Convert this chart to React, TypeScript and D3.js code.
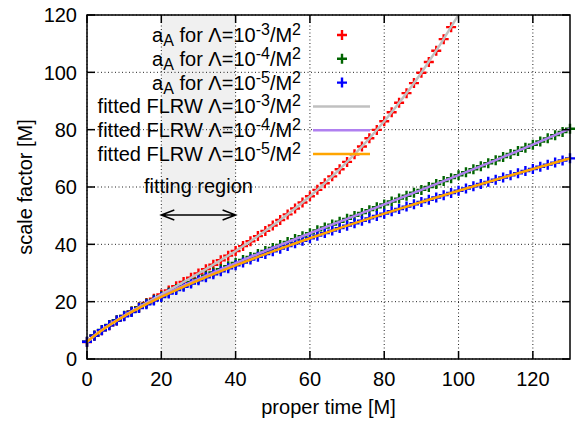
import React, { useEffect, useRef } from "react";
import * as d3 from "d3";

// proper time [M] of the simulation samples
const properTime = [
  0, 2, 4, 6, 8, 10, 12, 14, 16, 18, 20, 22, 24, 26, 28, 30, 32, 34, 36, 38, 40,
  42, 44, 46, 48, 50, 52, 54, 56, 58, 60, 62, 64, 66, 68, 70, 72, 74, 76, 78, 80,
  82, 84, 86, 88, 90, 92, 94, 96, 98, 100, 102, 104, 106, 108, 110, 112, 114,
  116, 118, 120, 122, 124, 126, 128, 130,
];

// a_A for Lambda = 1e-3 (leaves the frame after t = 100)
const aLambda3 = [
  5.94, 8.11, 10.02, 11.79, 13.45, 15.04, 16.58, 18.09, 19.57, 21.03, 22.48,
  23.93, 25.39, 26.85, 28.33, 29.82, 31.34, 32.89, 34.46, 36.06, 37.7, 39.38,
  41.1, 42.87, 44.68, 46.55, 48.47, 50.45, 52.49, 54.59, 56.77, 59.01, 61.32,
  63.72, 66.19, 68.76, 71.4, 74.14, 76.98, 79.91, 82.96, 86.1, 89.37, 92.74,
  96.25, 99.88, 103.63, 107.53, 111.58, 115.76, 120.1,
];

// a_A for Lambda = 1e-4
const aLambda4 = [
  6.0, 8.19, 10.11, 11.87, 13.51, 15.06, 16.53, 17.95, 19.32, 20.64, 21.92,
  23.17, 24.4, 25.6, 26.77, 27.92, 29.07, 30.19, 31.3, 32.39, 33.47, 34.54,
  35.61, 36.66, 37.7, 38.74, 39.78, 40.81, 41.83, 42.84, 43.86, 44.87, 45.89,
  46.89, 47.9, 48.89, 49.91, 50.92, 51.92, 52.92, 53.93, 54.94, 55.95, 56.96,
  57.97, 58.98, 60.01, 61.04, 62.06, 63.08, 64.12, 65.16, 66.21, 67.26, 68.31,
  69.35, 70.44, 71.52, 72.59, 73.68, 74.76, 75.86, 76.97, 78.08, 79.19, 80.32,
];

// a_A for Lambda = 1e-5
const aLambda5 = [
  6.0, 8.15, 10.05, 11.78, 13.4, 14.92, 16.37, 17.75, 19.09, 20.38, 21.63,
  22.84, 24.03, 25.19, 26.32, 27.43, 28.52, 29.58, 30.63, 31.66, 32.68, 33.68,
  34.67, 35.64, 36.6, 37.55, 38.49, 39.42, 40.34, 41.25, 42.14, 43.03, 43.92,
  44.79, 45.66, 46.52, 47.37, 48.22, 49.06, 49.88, 50.71, 51.54, 52.35, 53.16,
  53.97, 54.78, 55.57, 56.36, 57.15, 57.93, 58.71, 59.48, 60.26, 61.03, 61.79,
  62.55, 63.3, 64.06, 64.8, 65.56, 66.3, 67.04, 67.79, 68.52, 69.25, 69.99,
];

// fitted FLRW curves
const fitTime = [0, 2, 5, 10, 15, 20, 30, 40, 50, 60, 70, 80, 90, 100, 110, 120, 130];
const fitLambda3 = [5.94, 8.11, 10.9, 15.04, 18.83, 22.48, 29.82, 37.7, 46.55, 56.77, 68.76, 82.96, 99.88, 120.1, 144.3, 173.3, 208.0];
const fitLambda4 = [6.0, 8.19, 11.0, 15.06, 18.64, 21.92, 27.92, 33.47, 38.74, 43.86, 48.89, 53.93, 58.98, 64.12, 69.35, 74.76, 80.32];
const fitLambda5 = [5.99, 8.15, 10.93, 14.92, 18.42, 21.63, 27.43, 32.68, 37.55, 42.14, 46.52, 50.71, 54.78, 58.71, 62.55, 66.3, 69.99];

const xTicks = [0, 20, 40, 60, 80, 100, 120];
const yTicks = [0, 20, 40, 60, 80, 100, 120];
const fitRegion = [20, 40];
const exponents = ["-3", "-4", "-5"];

const FONT = "'Liberation Sans', Arial, Helvetica, sans-serif";
const width = 579;
const height = 421;
const margin = { top: 15, right: 9, bottom: 62, left: 87 };

function richText(sel, parts) {
  let shift = 0;
  parts.forEach((p) => {
    const target = p.s === "sup" ? -7 : p.s === "sub" ? 4 : 0;
    sel
      .append("tspan")
      .attr("dy", target - shift)
      .attr("font-size", p.s ? 16 : 20)
      .text(p.t);
    shift = target;
  });
}

export default function App() {
  const ref = useRef(null);

  useEffect(() => {
    const svg = d3.select(ref.current);
    svg.selectAll("*").remove();

    const x = d3.scaleLinear().domain([0, 130]).range([margin.left, width - margin.right]);
    const y = d3.scaleLinear().domain([0, 120]).range([height - margin.bottom, margin.top]);
    const [x0, x1] = x.range();
    const [y0, y1] = y.range();

    svg
      .append("defs")
      .append("clipPath")
      .attr("id", "plotclip")
      .append("rect")
      .attr("x", x0)
      .attr("y", y1)
      .attr("width", x1 - x0)
      .attr("height", y0 - y1);

    // fitting region shade
    svg
      .append("rect")
      .attr("x", x(fitRegion[0]))
      .attr("y", y1)
      .attr("width", x(fitRegion[1]) - x(fitRegion[0]))
      .attr("height", y0 - y1)
      .attr("fill", "#f0f0f0");

    // grid
    const grid = svg.append("g").attr("stroke", "#222").attr("stroke-width", 1).attr("stroke-dasharray", "1,2.5");
    xTicks.forEach((t) => {
      grid.append("line").attr("x1", x(t)).attr("x2", x(t)).attr("y1", y0).attr("y2", y1);
    });
    yTicks.forEach((t) => {
      grid.append("line").attr("x1", x0).attr("x2", x1).attr("y1", y(t)).attr("y2", y(t));
    });

    // data points
    const plus = (g, cx, cy, color) => {
      g.append("path")
        .attr("d", `M${cx - 5},${cy}H${cx + 5}M${cx},${cy - 5}V${cy + 5}`)
        .attr("stroke", color)
        .attr("stroke-width", 2.4)
        .attr("fill", "none");
    };
    const series = [
      { values: aLambda3, color: "#ff0000" },
      { values: aLambda4, color: "#006400" },
      { values: aLambda5, color: "#0000ff" },
    ];
    series.forEach((s) => {
      const g = svg.append("g");
      s.values.forEach((v, i) => {
        if (v <= 120) plus(g, x(properTime[i]), y(v), s.color);
      });
    });

    // fitted lines
    const line = d3
      .line()
      .x((d) => x(d[0]))
      .y((d) => y(d[1]))
      .curve(d3.curveMonotoneX);
    const fits = [
      { values: fitLambda3, color: "#c0c0c0" },
      { values: fitLambda4, color: "#b080f0" },
      { values: fitLambda5, color: "#ffa500" },
    ];
    fits.forEach((f) => {
      svg
        .append("path")
        .attr("d", line(fitTime.map((t, i) => [t, f.values[i]])))
        .attr("fill", "none")
        .attr("stroke", f.color)
        .attr("stroke-width", 2.5)
        .attr("clip-path", "url(#plotclip)");
    });

    // border and ticks
    svg
      .append("rect")
      .attr("x", x0)
      .attr("y", y1)
      .attr("width", x1 - x0)
      .attr("height", y0 - y1)
      .attr("fill", "none")
      .attr("stroke", "#000")
      .attr("stroke-width", 1.5);
    const ticks = svg.append("g").attr("stroke", "#000").attr("stroke-width", 1.5);
    xTicks.forEach((t) => {
      ticks.append("line").attr("x1", x(t)).attr("x2", x(t)).attr("y1", y0).attr("y2", y0 - 8);
      ticks.append("line").attr("x1", x(t)).attr("x2", x(t)).attr("y1", y1).attr("y2", y1 + 8);
    });
    yTicks.forEach((t) => {
      ticks.append("line").attr("x1", x0).attr("x2", x0 + 8).attr("y1", y(t)).attr("y2", y(t));
      ticks.append("line").attr("x1", x1).attr("x2", x1 - 8).attr("y1", y(t)).attr("y2", y(t));
    });

    const txt = svg.append("g").attr("font-family", FONT).attr("font-size", 20).attr("fill", "#000");
    xTicks.forEach((t) => {
      txt.append("text").attr("x", x(t)).attr("y", y0 + 27).attr("text-anchor", "middle").text(t);
    });
    yTicks.forEach((t) => {
      txt.append("text").attr("x", x0 - 10).attr("y", y(t)).attr("dy", "0.36em").attr("text-anchor", "end").text(t);
    });

    txt.append("text").attr("x", (x0 + x1) / 2).attr("y", 414).attr("text-anchor", "middle").text("proper time [M]");
    txt
      .append("text")
      .attr("transform", `translate(32,${(y0 + y1) / 2}) rotate(-90)`)
      .attr("text-anchor", "middle")
      .text("scale factor [M]");

    // fitting region label and arrow
    const xa = x(fitRegion[0]);
    const xb = x(fitRegion[1]);
    txt.append("text").attr("x", (xa + xb) / 2).attr("y", 193).attr("text-anchor", "middle").text("fitting region");
    svg
      .append("path")
      .attr("d", `M${xa},215H${xb}M${xa + 13},210L${xa},215L${xa + 13},220M${xb - 13},210L${xb},215L${xb - 13},220`)
      .attr("fill", "none")
      .attr("stroke", "#000")
      .attr("stroke-width", 1.5);

    // legend
    const legendX = 301;
    const rowY = (i) => 35 + i * 23.8;
    series.forEach((s, i) => {
      const t = txt
        .append("text")
        .attr("x", legendX)
        .attr("y", rowY(i) + 7)
        .attr("text-anchor", "end")
        .style("white-space", "pre");
      richText(t, [
        { t: "a" },
        { t: "A", s: "sub" },
        { t: " for \u039B=10" },
        { t: exponents[i], s: "sup" },
        { t: "/M" },
        { t: "2", s: "sup" },
      ]);
      plus(svg, 342, rowY(i), s.color);
    });
    fits.forEach((f, i) => {
      const r = rowY(i + 3);
      const t = txt
        .append("text")
        .attr("x", legendX)
        .attr("y", r + 7)
        .attr("text-anchor", "end")
        .style("white-space", "pre");
      richText(t, [
        { t: "fitted FLRW \u039B=10" },
        { t: exponents[i], s: "sup" },
        { t: "/M" },
        { t: "2", s: "sup" },
      ]);
      svg
        .append("line")
        .attr("x1", 313)
        .attr("x2", 370)
        .attr("y1", r)
        .attr("y2", r)
        .attr("stroke", f.color)
        .attr("stroke-width", 2.5);
    });
  }, []);

  return (
    <svg
      ref={ref}
      width={width}
      height={height}
      style={{ position: "absolute", left: 0, top: 0, display: "block", background: "#fff" }}
    />
  );
}
